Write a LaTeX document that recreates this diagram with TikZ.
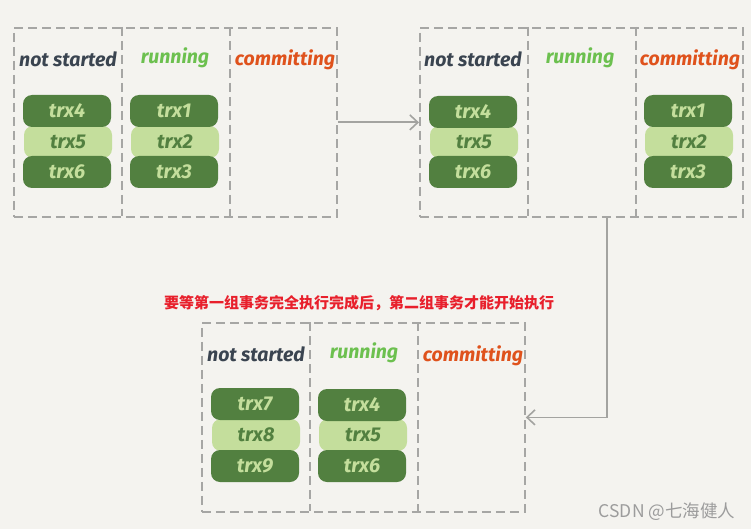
\documentclass[tikz,border=0pt]{standalone}
\usepackage{fontspec}
\setmainfont{Fira Sans}
\newfontfamily\hand{Fira Sans}
\newfontfamily\cjk{Noto Sans CJK SC}
\usetikzlibrary{arrows.meta,calc}
\definecolor{bg}{HTML}{F4F3EF}
\definecolor{boxgray}{HTML}{A6A6A4}
\definecolor{arrgray}{HTML}{A3A3A0}
\definecolor{dkgreen}{HTML}{528040}
\definecolor{ltgreen}{HTML}{C4DE9C}
\definecolor{slate}{HTML}{3A4450}
\definecolor{rungreen}{HTML}{6CC04F}
\definecolor{commorange}{HTML}{DF521C}
\definecolor{notered}{HTML}{E8202C}
\definecolor{wmgray}{HTML}{9C9C9C}
\tikzset{
  grp/.style={draw=boxgray, line width=1.8pt, dash pattern=on 9pt off 5pt,
    minimum width=323pt, minimum height=189pt, inner sep=0pt, anchor=north west},
  divline/.style={draw=boxgray, line width=1.8pt, dash pattern=on 9pt off 5pt},
  pill/.style={rounded corners=9pt, minimum width=88pt, minimum height=32pt, inner sep=0pt,
    font=\hand\bfseries\itshape\fontsize{20}{20}\selectfont},
  dark/.style={pill, fill=dkgreen, text=ltgreen},
  light/.style={pill, fill=ltgreen, text=dkgreen},
  lab/.style={font=\hand\bfseries\itshape\fontsize{19.5}{19.5}\selectfont, inner sep=0pt},
  ns/.style={lab, text=slate},
  run/.style={lab, text=rungreen},
  com/.style={lab, text=commorange},
  conn/.style={draw=arrgray, line width=1.8pt, -{Straight Barb[length=8pt, width=15pt, line width=1.6pt]}},
}
\begin{document}
\begin{tikzpicture}[x=1pt,y=-1pt]
\fill[bg] (0,0) rectangle (751,529);
\useasboundingbox (0,0) rectangle (751,529);

% groups
\node[grp] (g1) at (13,27) {};
\node[grp] (g2) at (419,27) {};
\node[grp] (g3) at (201,322) {};
\foreach \g in {g1,g2,g3}{
  \draw[divline] (\g.north west) ++(109,0) -- ++(0,189);
  \draw[divline] (\g.north west) ++(217,0) -- ++(0,189);
}

% labels group 1
\node[ns]  (l1a) at (68,59) {not started};
\node[run] (l1b) at (175,58) {running};
\node[com] (l1c) at (285,60) {committing};
% labels group 2
\node[ns]  (l2a) at (473,59) {not started};
\node[run] (l2b) at (580,58) {running};
\node[com] (l2c) at (690,60) {committing};
% labels group 3
\node[ns]  (l3a) at (256,354) {not started};
\node[run] (l3b) at (364,353) {running};
\node[com] (l3c) at (473,356) {committing};

% pills group 1
\node[light] (p15) at (68,142) {trx5};
\node[dark]  (p14) at (67,111) {trx4};
\node[dark]  (p16) at (67,172) {trx6};
\node[light] (p12) at (175,142) {trx2};
\node[dark]  (p11) at (174,111) {trx1};
\node[dark]  (p13) at (174,172) {trx3};
% pills group 2
\node[light] (p25) at (474,142) {trx5};
\node[dark]  (p24) at (473,112) {trx4};
\node[dark]  (p26) at (473,172) {trx6};
\node[light] (p22) at (689,142) {trx2};
\node[dark]  (p21) at (688,111) {trx1};
\node[dark]  (p23) at (688,172) {trx3};
% pills group 3
\node[light] (p38) at (256,435) {trx8};
\node[dark]  (p37) at (255,404) {trx7};
\node[dark]  (p39) at (255,466) {trx9};
\node[light] (p35) at (363,435) {trx5};
\node[dark]  (p34) at (362,405) {trx4};
\node[dark]  (p36) at (362,466) {trx6};

% connectors
\draw[conn] (g1.east) -- (g2.west);
\coordinate (c2) at ($(g2.south west)+(188,0)$);
\draw[conn] (c2) |- (g3.east);

% note
\node[font=\cjk\bfseries\fontsize{15}{15}\selectfont, text=notered, inner sep=0pt] (note) at (359,303)
  {要等第一组事务完全执行完成后，第二组事务才能开始执行};
% watermark
\node[font=\cjk\fontsize{17.5}{17.5}\selectfont, text=wmgray, inner sep=0pt] (wm) at (667,512)
  {CSDN @七海健人};
\end{tikzpicture}
\end{document}
